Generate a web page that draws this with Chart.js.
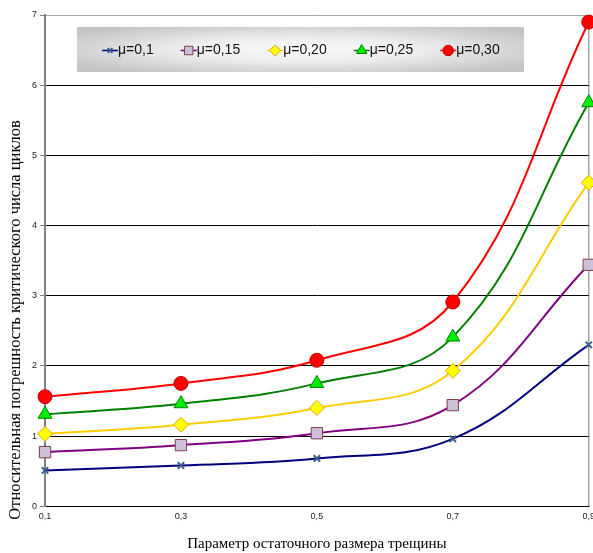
<!DOCTYPE html>
<html>
<head>
<meta charset="utf-8">
<script src="https://cdn.jsdelivr.net/npm/chart.js@4/dist/chart.umd.min.js"></script>
<style>
  html, body { margin: 0; padding: 0; background: #fff; overflow: hidden; }
  #wrap { width: 600px; height: 553px; }
</style>
</head>
<body>
<div id="wrap"><canvas id="chart" width="600" height="553"></canvas></div>
<script>
// Данные графика
const xTicks = [0.1, 0.3, 0.5, 0.7, 0.9];
const yTicks = [0, 1, 2, 3, 4, 5, 6, 7];
const seriesLabels = ['μ=0,1', 'μ=0,15', 'μ=0,20', 'μ=0,25', 'μ=0,30'];
const mu010 = [0.51, 0.58, 0.68, 0.96, 2.30];
const mu015 = [0.77, 0.87, 1.04, 1.44, 3.44];
const mu020 = [1.03, 1.16, 1.40, 1.93, 4.61];
const mu025 = [1.31, 1.46, 1.75, 2.41, 5.75];
const mu030 = [1.56, 1.75, 2.08, 2.91, 6.90];

const xTitle = 'Параметр остаточного размера трещины';
const yTitle = 'Относительная погрешность критического числа циклов';

// Стиль серий
const styles = [
  { line: '#000080', fill: '#3a5f8a', border: '#3a5f8a', point: 'crossRot', r: 4.5, bw: 2 },
  { line: '#800080', fill: '#ccc0da', border: '#7f3f4f', point: 'rect', r: 8, bw: 1 },
  { line: '#ffcc00', fill: '#ffff00', border: '#e0a020', point: 'rectRot', r: 7.5, bw: 1 },
  { line: '#008000', fill: '#00ee00', border: '#008000', point: 'triangle', r: 8, bw: 1 },
  { line: '#ff0000', fill: '#ff0000', border: '#c00000', point: 'circle', r: 7, bw: 1 }
];

const allValues = [mu010, mu015, mu020, mu025, mu030];

const fmt = v => String(Math.round(v * 10) / 10).replace('.', ',');

// Легенда в сером прямоугольнике внутри области графика
const legendBox = {
  id: 'legendBox',
  afterDraw(chart) {
    const ctx = chart.ctx;
    const x0 = 77, y0 = 27, w = 447, h = 45;
    ctx.save();
    ctx.translate(x0 + w / 2, y0 + h / 2);
    ctx.scale(w / h, 1);
    const g = ctx.createRadialGradient(0, 0, 0, 0, 0, h * 0.62);
    g.addColorStop(0, '#fbfbfb');
    g.addColorStop(0.45, '#ececec');
    g.addColorStop(1, '#c4c4c4');
    ctx.fillStyle = g;
    ctx.fillRect(-h / 2, -h / 2, h, h);
    ctx.restore();

    ctx.save();
    ctx.font = '14px "Liberation Sans", Arial, sans-serif';
    ctx.textBaseline = 'middle';
    ctx.fillStyle = '#000';
    const cy = y0 + h / 2 + 1;
    let x = 102;
    chart.data.datasets.forEach((ds, i) => {
      const st = styles[i];
      ctx.strokeStyle = st.line;
      ctx.lineWidth = 1.5;
      ctx.beginPath();
      ctx.moveTo(x, cy);
      ctx.lineTo(x + 16, cy);
      ctx.stroke();
      ctx.fillStyle = st.fill;
      ctx.strokeStyle = st.border;
      ctx.lineWidth = st.bw;
      Chart.helpers.drawPoint(ctx, { pointStyle: st.point, radius: st.r * 0.75, rotation: 0, borderWidth: st.bw }, x + 8, cy);
      ctx.fillStyle = '#111';
      ctx.fillText(ds.label, x + 16, cy);
      x += 16 + ctx.measureText(ds.label).width + 27;
    });
    ctx.restore();
  }
};

// Подпись оси Y (смещена вниз как в оригинале)
const yTitlePlugin = {
  id: 'yTitle',
  afterDraw(chart) {
    const ctx = chart.ctx;
    ctx.save();
    ctx.translate(16, 320);
    ctx.rotate(-Math.PI / 2);
    ctx.font = '16.5px "Liberation Serif", "Times New Roman", serif';
    ctx.fillStyle = '#000';
    ctx.textAlign = 'center';
    ctx.textBaseline = 'middle';
    ctx.fillText(yTitle, 0, 0);
    ctx.restore();
  }
};

const datasets = allValues.map((vals, i) => ({
  label: seriesLabels[i],
  data: vals.map((v, j) => ({ x: xTicks[j], y: v })),
  borderColor: styles[i].line,
  borderWidth: 2,
  backgroundColor: styles[i].fill,
  pointStyle: styles[i].point,
  pointRadius: styles[i].r,
  pointBackgroundColor: styles[i].fill,
  pointBorderColor: styles[i].border,
  pointBorderWidth: styles[i].bw,
  tension: 0.4,
  clip: false,
  fill: false
}));

new Chart(document.getElementById('chart').getContext('2d'), {
  type: 'line',
  data: { datasets },
  options: {
    responsive: false,
    animation: false,
    layout: { padding: { left: 29, top: 15, right: 5, bottom: 0 } },
    plugins: { legend: { display: false }, tooltip: { enabled: false } },
    scales: {
      x: {
        type: 'linear',
        min: 0.1,
        max: 0.9,
        afterBuildTicks: s => { s.ticks = xTicks.map(v => ({ value: v })); },
        ticks: {
          callback: v => fmt(v),
          font: { size: 9, family: '"Liberation Sans", Arial, sans-serif' },
          color: '#222',
          padding: 5,
          maxRotation: 0
        },
        grid: {
          color: ctx => (ctx.tick && ctx.tick.value === 0.9 ? '#a6a6a6' : 'rgba(0,0,0,0)'),
          lineWidth: 1.5,
          drawTicks: false,
          tickLength: 5
        },
        border: { color: '#000', width: 1 },
        title: {
          display: true,
          text: xTitle,
          font: { size: 15, family: '"Liberation Serif", "Times New Roman", serif' },
          color: '#000',
          padding: { top: 8, bottom: 0 }
        }
      },
      y: {
        min: 0,
        max: 7,
        afterBuildTicks: s => { s.ticks = yTicks.map(v => ({ value: v })); },
        ticks: {
          font: { size: 9, family: '"Liberation Sans", Arial, sans-serif' },
          color: '#222',
          padding: 3
        },
        grid: {
          color: ctx => (ctx.tick && ctx.tick.value === 7 ? '#a6a6a6' : '#000'),
          lineWidth: 1,
          tickLength: 5,
          tickColor: '#808080'
        },
        border: { color: '#808080', width: 2 }
      }
    }
  },
  plugins: [legendBox, yTitlePlugin]
});
</script>
</body>
</html>
